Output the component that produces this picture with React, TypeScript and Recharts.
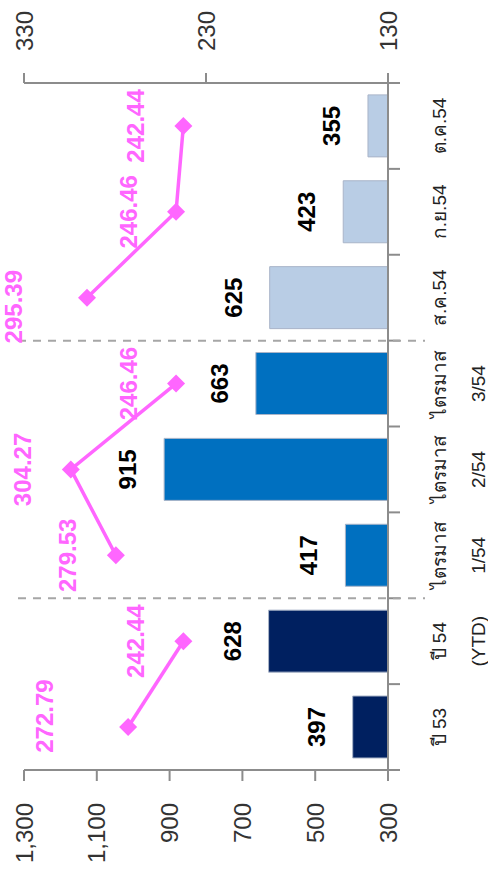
import React from "react"
import {
    Bar,
    Cell,
    ComposedChart,
    LabelList,
    Line,
    ReferenceLine,
    XAxis,
    YAxis,
} from "recharts"

// categories (two text lines each)
const categoryNames = ["ปี 53", "ปี 54", "ไตรมาส", "ไตรมาส", "ไตรมาส", "ส.ค.54", "ก.ย.54", "ต.ค.54"]
const categorySubNames = ["", "(YTD)", "1/54", "2/54", "3/54", "", "", ""]

// bars (left axis)
const volumes = [397, 628, 417, 915, 663, 625, 423, 355]
const barGroups = ["year", "year", "quarter", "quarter", "quarter", "month", "month", "month"]

// price lines (right axis), one series per group so the segments break
const yearPrices = [272.79, 242.44, null, null, null, null, null, null]
const quarterPrices = [null, null, 279.53, 304.27, 246.46, null, null, null]
const monthPrices = [null, null, null, null, null, 295.39, 246.46, 242.44]

const volumeTicks = [300, 500, 700, 900, 1100, 1300]
const priceTicks = [130, 230, 330]
const boundaries = [0, 1, 2, 3, 4, 5, 6, 7, 8]
const dividers = [2, 5]

const groupColors: Record<string, string> = {
    year: "#002060",
    quarter: "#0070C0",
    month: "#B9CDE5",
}

const AXIS = "#8C8C8C"
const PINK = "#FF66FF"
const FONT = "'Liberation Sans', Arial, sans-serif"

// a couple of price labels sit further away from their point
const priceLabelShift: Record<number, [number, number]> = {
    0: [11, -36],
    5: [-9, -25],
}

const data = categoryNames.map((name, i) => ({
    name: name + categorySubNames[i],
    slot: i + 0.5,
    volume: volumes[i],
    yearPrice: yearPrices[i],
    quarterPrice: quarterPrices[i],
    monthPrice: monthPrices[i],
}))

const fmt = (v: number) => v.toLocaleString("en-US")

const CategoryTick = (props: any) => {
    const { x, y, index } = props
    const sub = categorySubNames[index]
    return (
        <g fontFamily={FONT} fontSize={19} fill="#222">
            <text x={x} y={y + 58} textAnchor="middle">
                {categoryNames[index]}
            </text>
            {sub && (
                <text x={x} y={y + 97} textAnchor="middle">
                    {sub}
                </text>
            )}
        </g>
    )
}

const Diamond = (props: any) => {
    const { cx, cy, index } = props
    if (cx == null || cy == null || props.value == null) return <g key={index} />
    const r = 9
    return (
        <polygon
            key={index}
            points={`${cx},${cy - r} ${cx + r},${cy} ${cx},${cy + r} ${cx - r},${cy}`}
            fill={PINK}
        />
    )
}

const PriceLabel = (props: any) => {
    const { x, y, value, index } = props
    if (value == null || x == null || y == null) return null
    const [dx, dy] = priceLabelShift[index] || [0, 0]
    return (
        <text
            x={x + dx}
            y={y - 48 + dy}
            textAnchor="middle"
            dominantBaseline="central"
            fontFamily={FONT}
            fontSize={24}
            fontWeight="bold"
            fill={PINK}
        >
            {value.toFixed(2)}
        </text>
    )
}

const BoundaryTick = (props: any) => {
    const y = Math.max(props.y1, props.y2)
    return <line x1={props.x1} x2={props.x1} y1={y} y2={y + 12} stroke={AXIS} strokeWidth={2} />
}

const DividerLine = (props: any) => {
    const top = Math.min(props.y1, props.y2)
    const bottom = Math.max(props.y1, props.y2)
    return (
        <line
            x1={props.x1}
            x2={props.x1}
            y1={top - 6}
            y2={bottom + 37}
            stroke="#A6A6A6"
            strokeWidth={2}
            strokeDasharray="8 7"
        />
    )
}

const priceSeries = ["yearPrice", "quarterPrice", "monthPrice"]

export default function App() {
    return (
        <div style={{ position: "absolute", left: 0, top: 0, width: 488, height: 873, overflow: "hidden", background: "#fff" }}>
            <div
                style={{
                    position: "absolute",
                    left: 0,
                    top: 0,
                    width: 873,
                    height: 488,
                    transformOrigin: "0 0",
                    transform: "translate(0px, 873px) rotate(-90deg)",
                }}
            >
                <ComposedChart width={873} height={488} data={data} margin={{ top: 24, right: 0, bottom: 0, left: 0 }}>
                    <XAxis
                        dataKey="name"
                        height={100}
                        interval={0}
                        tickLine={false}
                        tickSize={0}
                        tickMargin={0}
                        axisLine={{ stroke: AXIS, strokeWidth: 2 }}
                        tick={<CategoryTick />}
                    />
                    <XAxis
                        xAxisId="grid"
                        dataKey="slot"
                        type="number"
                        domain={[0, 8]}
                        allowDataOverflow
                        hide
                    />
                    <YAxis
                        yAxisId="left"
                        width={103}
                        domain={[300, 1300]}
                        ticks={volumeTicks}
                        tickFormatter={fmt}
                        tickSize={11}
                        tickMargin={22}
                        axisLine={{ stroke: AXIS, strokeWidth: 2 }}
                        tickLine={{ stroke: AXIS, strokeWidth: 2 }}
                        tick={{ fill: "#333", fontSize: 24, fontFamily: FONT }}
                    />
                    <YAxis
                        yAxisId="right"
                        orientation="right"
                        width={83}
                        domain={[130, 330]}
                        ticks={priceTicks}
                        tickSize={10}
                        tickMargin={22}
                        axisLine={{ stroke: AXIS, strokeWidth: 2 }}
                        tickLine={{ stroke: AXIS, strokeWidth: 2 }}
                        tick={{ fill: "#333", fontSize: 24, fontFamily: FONT }}
                    />
                    {boundaries.map(b => (
                        <ReferenceLine key={"b" + b} xAxisId="grid" yAxisId="left" x={b} shape={BoundaryTick} />
                    ))}
                    {dividers.map(d => (
                        <ReferenceLine key={"d" + d} xAxisId="grid" yAxisId="left" x={d} shape={DividerLine} />
                    ))}
                    <Bar yAxisId="left" dataKey="volume" barSize={62} isAnimationActive={false} stroke="#A9B4C8" strokeWidth={1}>
                        {volumes.map((_, i) => (
                            <Cell key={i} fill={groupColors[barGroups[i]]} />
                        ))}
                        <LabelList
                            dataKey="volume"
                            position="top"
                            offset={28}
                            fill="#000"
                            fontSize={24}
                            fontWeight="bold"
                            fontFamily={FONT}
                        />
                    </Bar>
                    {priceSeries.map(key => (
                        <Line
                            key={key}
                            yAxisId="right"
                            dataKey={key}
                            type="linear"
                            stroke={PINK}
                            strokeWidth={3.5}
                            dot={Diamond}
                            activeDot={false}
                            connectNulls={false}
                            isAnimationActive={false}
                        >
                            <LabelList dataKey={key} content={PriceLabel} />
                        </Line>
                    ))}
                </ComposedChart>
            </div>
        </div>
    )
}
